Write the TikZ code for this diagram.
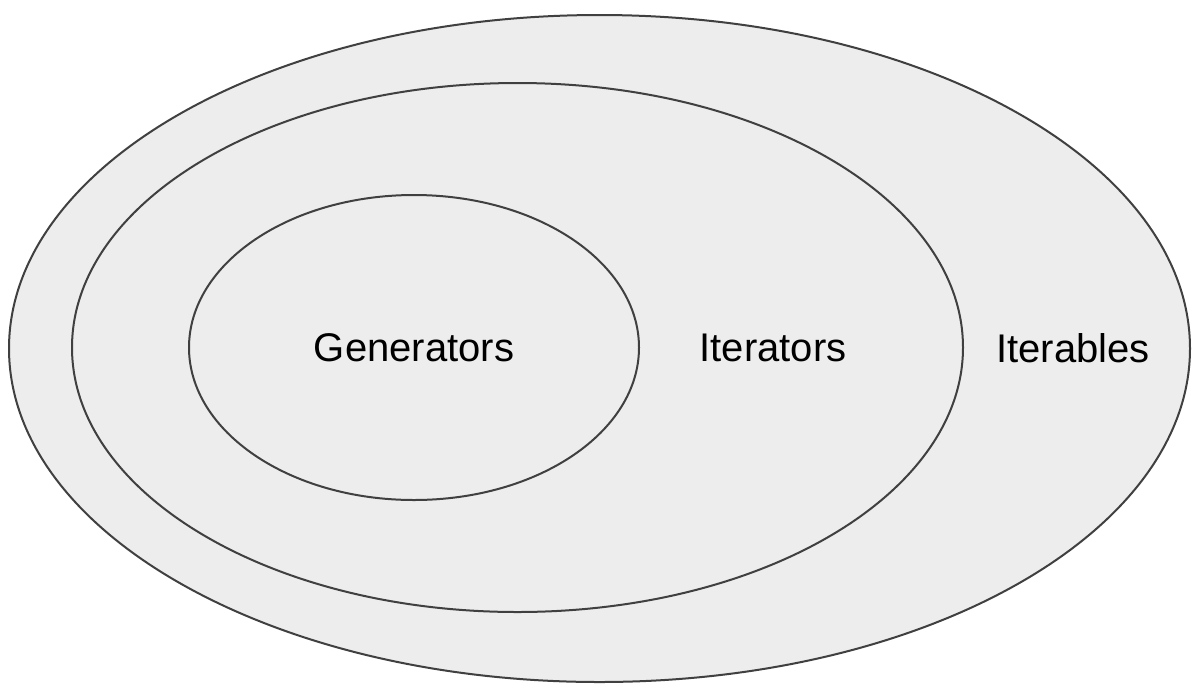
\documentclass[tikz,border=0pt]{standalone}
\usepackage{fontspec}
\setmainfont{Liberation Sans}
\usetikzlibrary{shapes.geometric}

\begin{document}
\begin{tikzpicture}[x=0.5pt,y=-0.5pt,
set/.style={ellipse,draw=black!75,line width=1pt,fill=black!7,inner sep=0pt},
lbl/.style={font=\fontsize{20}{24}\selectfont,inner sep=0pt}]
\useasboundingbox (0,0) rectangle (1200,698);
\node[set,minimum width=590.5pt,minimum height=333.5pt] (Iterables) at (599.5,348.5) {};
\node[set,minimum width=445.5pt,minimum height=264.5pt] (Iterators) at (517.5,347.5) {};
\node[set,minimum width=225pt,minimum height=152.5pt] (Generators) at (414,347.5) {};
\node[lbl] (GenText) at (414,348) {Generators};
\node[lbl] (ItText) at (773,348) {Iterators};
\node[lbl] (IterText) at (1073,348) {Iterables};
\end{tikzpicture}
\end{document}
